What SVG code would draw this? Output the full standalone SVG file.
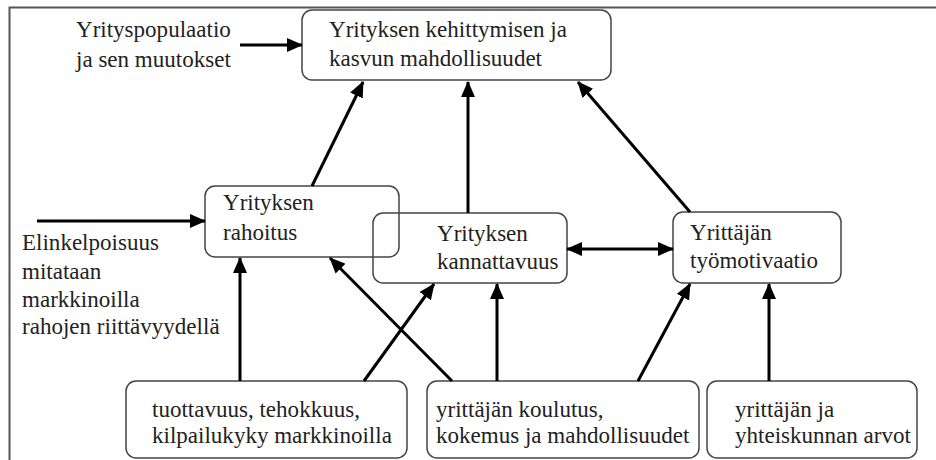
<svg xmlns="http://www.w3.org/2000/svg" width="936" height="460" viewBox="0 0 936 460">
<style>
.box{fill:#fff;stroke:#444;stroke-width:1.5}
.c{stroke:#000;stroke-width:3;fill:none;marker-end:url(#ah)}
</style>
<defs>
<marker id="ah" viewBox="0 0 16 14" refX="15" refY="7" markerWidth="16" markerHeight="14" markerUnits="userSpaceOnUse" orient="auto-start-reverse">
<path d="M0,0 L16,7 L0,14 z" fill="#000"/>
</marker>
</defs>
<rect width="936" height="460" fill="#fff"/>
<path d="M9.5,460 V7.5 H936" fill="none" stroke="#555" stroke-width="2"/>

<g font-family="Liberation Serif" font-size="18" fill="#222">
<g id="n-pop"><text transform="translate(76,37) scale(1.28)">Yrityspopulaatio</text><text transform="translate(76,67) scale(1.28)">ja sen muutokset</text></g>
<g id="n-top"><rect class="box" x="302" y="10" width="309" height="70" rx="10"/><text transform="translate(329,37) scale(1.28)">Yrityksen kehittymisen ja</text><text transform="translate(329,66) scale(1.28)">kasvun mahdollisuudet</text></g>
<g id="n-elin"><text transform="translate(22,250) scale(1.28)">Elinkelpoisuus</text><text transform="translate(22,279) scale(1.28)">mitataan</text><text transform="translate(22,307) scale(1.28)">markkinoilla</text><text transform="translate(22,334) scale(1.28)">rahojen riittävyydellä</text></g>
<g id="n-rah"><rect class="box" x="205" y="186" width="194" height="71" rx="10" style="fill:none"/><text transform="translate(223,210) scale(1.28)">Yrityksen</text><text transform="translate(223,240) scale(1.28)">rahoitus</text></g>
<g id="n-kan"><rect class="box" x="373" y="213" width="194" height="70" rx="10" style="fill:none"/><text transform="translate(437,241) scale(1.28)">Yrityksen</text><text transform="translate(437,269) scale(1.28)">kannattavuus</text></g>
<g id="n-tyo"><rect class="box" x="673" y="212" width="168" height="71" rx="10"/><text transform="translate(690,240) scale(1.28)">Yrittäjän</text><text transform="translate(690,268) scale(1.28)">työmotivaatio</text></g>
<g id="n-tuo"><rect class="box" x="126" y="381" width="281" height="77" rx="10"/><text transform="translate(152,417) scale(1.28)">tuottavuus, tehokkuus,</text><text transform="translate(152,443) scale(1.28)">kilpailukyky markkinoilla</text></g>
<g id="n-kou"><rect class="box" x="427" y="381" width="272" height="77" rx="10"/><text transform="translate(436,417) scale(1.28)">yrittäjän koulutus,</text><text transform="translate(436,443) scale(1.28)">kokemus ja mahdollisuudet</text></g>
<g id="n-arv"><rect class="box" x="707" y="381" width="210" height="77" rx="10"/><text transform="translate(735,417) scale(1.28)">yrittäjän ja</text><text transform="translate(735,443) scale(1.28)">yhteiskunnan arvot</text></g>
</g>

<g id="connectors">
<line class="c" x1="240" y1="45" x2="302" y2="45"/>
<line class="c" x1="37" y1="221" x2="205" y2="221"/>
<line class="c" x1="312" y1="186" x2="363" y2="82"/>
<line class="c" x1="468" y1="213" x2="468" y2="82"/>
<line class="c" x1="690" y1="212" x2="578" y2="82"/>
<line class="c" x1="567" y1="249" x2="673" y2="249" style="marker-start:url(#ah)"/>
<line class="c" x1="240" y1="381" x2="240" y2="258"/>
<line class="c" x1="364" y1="381" x2="434" y2="284"/>
<line class="c" x1="452" y1="381" x2="330" y2="258"/>
<line class="c" x1="497" y1="381" x2="497" y2="284"/>
<line class="c" x1="638" y1="381" x2="690" y2="284"/>
<line class="c" x1="769" y1="381" x2="769" y2="284"/>
</g>
</svg>
